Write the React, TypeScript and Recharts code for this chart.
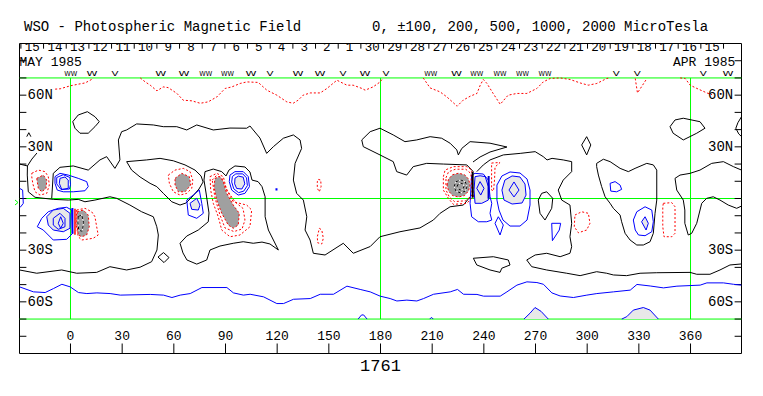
import React from 'react';
import { ComposedChart, XAxis, YAxis, Scatter, ReferenceLine, ReferenceArea } from 'recharts';

type P = [number, number];

// ---------- axis / label data ----------
const LON_MIN = -29.61;
const LON_MAX = 389.6;
const lonTicks = [0, 30, 60, 90, 120, 150, 180, 210, 240, 270, 300, 330, 360];
const latTicks = [-80, -70, -60, -50, -40, -30, -20, -10, 0, 10, 20, 30, 40, 50, 60, 70, 80];
const latLabelVals = [60, 30, -30, -60];
const latLabelText = ['60N', '30N', '30S', '60S'];
const greenLat = [70, 0, -70];
const greenLon = [0, 180, 360];
const dateLabels = ['15', '14', '13', '12', '11', '10', '9', '8', '7', '6', '5', '4', '3', '2', '1', '30', '29', '28', '27', '26', '25', '24', '23', '22', '21', '20', '19', '18', '17', '16', '15'];
const DATE_START_LON = -28.8;
const DAY_DEG = 13.16;
const sectorLon = [0.1, 12.5, 25.8, 52.4, 65.9, 78.6, 91.2, 104.8, 115.8, 132.1, 144.9, 158.2, 171, 183.2, 209.2, 224.2, 235.9, 249.4, 262.5, 275.5, 316.9, 329.1, 367.4, 381.8];
const sectorMark = ['WW', 'W', 'V', 'W', 'W', 'WW', 'WW', 'W', 'V', 'W', 'W', 'V', 'W', 'V', 'WW', 'W', 'WW', 'WW', 'WW', 'WW', 'V', 'V', 'V', 'W'];
const rotationNumber = '1761';
const titleLeft = 'WSO - Photospheric Magnetic Field';
const titleRight = '0, \u00b1100, 200, 500, 1000, 2000 MicroTesla';
const monthLeft = 'MAY 1985';
const monthRight = 'APR 1985';

// ---------- contours (lon, lat) ----------
// north polar positive (red dotted)
const n1: P[] = [[-8.9, 63.5], [-6, 63.7], [-0.2, 65.4], [4.6, 66.4], [8.5, 67.1], [12.4, 69.2], [13.2, 70]];
const n2: P[] = [[40.5, 70], [43.4, 67.7], [46.3, 65.8], [50.2, 62.5], [53.8, 64.8], [56.7, 64.4], [61.8, 61], [65.4, 57.1], [70.5, 56.7], [75.3, 55.3], [79.9, 56.1], [85, 59], [89.8, 63.9], [93.7, 64.8], [98.5, 66.8], [102.4, 67.7], [109, 67.4], [114, 62.9], [119.8, 60], [125.6, 56.1], [129.3, 55.3], [132.2, 57.1], [135.1, 60], [139.2, 61.3], [145, 61.3], [148.9, 63.9], [154.7, 68.7], [156.6, 67.7], [160.5, 65.8], [164.1, 65.8], [169.2, 63.9], [171.1, 62.9], [175.7, 64.8], [179.8, 67.7], [181.5, 70]];
const n3: P[] = [[204.8, 70], [208.8, 64.2], [214.6, 61.9], [218.5, 59], [224.5, 53.6], [228, 57.1], [232.1, 59.4], [236, 61], [237.9, 65.8], [239.7, 69.1], [241.8, 66.8], [245.4, 61], [249.5, 54.7], [254.1, 60], [259.2, 61], [265, 61], [270.8, 63.9], [274.5, 67.7], [278.5, 69.7], [284.3, 70], [290.1, 69.1], [295.9, 67.1], [300.6, 65.8], [305.6, 66.8], [311.4, 69.7], [313, 70]];
const n4: P[] = [[327.9, 69.7], [329.2, 61.3], [334.7, 69.7]];
const n5: P[] = [[354, 70], [356.9, 69.7], [359.8, 65.8], [363.7, 63.9], [369.5, 61.3], [372.5, 60.3]];
// south polar negative (blue)
const s1: P[] = [[-29.6, -51.3], [-21.5, -54.2], [-14.7, -54.6], [-9.9, -52.3], [-5, -49.8], [-0.2, -51.3], [4.6, -54.6], [9.5, -55.2], [15.3, -54.8], [23, -55.2], [28.9, -56.1], [46.3, -55.7], [54, -56.1], [58.9, -57.5], [63.7, -56.1], [69.5, -55.2], [76.3, -51.7], [90.8, -51.7], [94.6, -54.8], [100.4, -56.1], [104.3, -55.6], [112.1, -57.1], [119.8, -61], [123.7, -61], [129.5, -58.5], [139.2, -58.1], [145, -55.6], [152.7, -55.6], [160.5, -50.9], [168.2, -52.8], [174, -54.2], [179.8, -56.7], [185.6, -58.1], [189.5, -59.5], [195.3, -59], [201.1, -59.5], [205, -58.1], [210.8, -55.6], [220.5, -54.2], [224.7, -52.8], [228.2, -55.6], [236, -55.7], [239.8, -56.7], [249.5, -56.7], [253.4, -54.2], [259.2, -50.3], [265, -48.4], [270.8, -48.8], [274.6, -49.8], [279.5, -54.8], [284.3, -56.6], [292, -57.5], [299.8, -56.1], [305.6, -55.2], [315.3, -54.2], [325, -53.2], [328.9, -49.9], [336.6, -50.8], [344.3, -51.9], [352.1, -50.9], [365.6, -50.3], [369.5, -49], [379.1, -49], [384.9, -49.8], [389.6, -50.3]];
const sb1: P[] = [[263.3, -70], [266.8, -66.6], [269.7, -63.3], [273.2, -65.5], [277.4, -70]];
const sb2: P[] = [[320.1, -70], [323, -68.6], [326.8, -64.8], [332.6, -63.3], [336.5, -64.8], [341.3, -70]];
const sb3: P[] = [[167, -70], [169, -67.6], [170.2, -67.6], [172.2, -70]];
const sb4: P[] = [[208.6, -70], [209.6, -69], [210.6, -70]];

// zero contours (black)
const k1: P[] = [[1.3, 44.6], [4.5, 48.5], [9.8, 50.4], [14.2, 47.5], [16.7, 44.6], [14.2, 41.7], [10.3, 37.9], [5.5, 37.9], [2.6, 40.8], [1.3, 44.6]];
const k2: P[] = [[-10.9, 0.1], [-10, 14.6], [-6.1, 18.1], [1.6, 18.9], [10.3, 16.5], [17.1, 22.4], [21, 24.3], [25.8, 17.5], [28.7, 22.4], [27.8, 34], [29.7, 38.8], [32.6, 39.8], [38.4, 43.3], [48.1, 42.7], [53.9, 41.7], [61.7, 41.7], [67.5, 39.8], [73.3, 42.7], [82.9, 39.8], [92.6, 40.9], [102.3, 40.8], [104.2, 42.1], [106.1, 39.8], [110, 35.1], [113.9, 26.2], [117.8, 30.1], [123.6, 35], [129.4, 36.9], [133.3, 34], [134.2, 29.1], [130.4, 20.4], [129.4, 10.7], [131.3, 3], [135.2, -0.9], [137.2, -10.6], [136.2, -18.3], [139.1, -24.1], [141, -31.8], [147.8, -32.8], [158.4, -26], [164.2, -31.8], [174, -27.9], [179.7, -22.2], [191.3, -19.3], [202.9, -17.1], [210.7, -12.5], [214.6, -8.6], [220.4, -4.8], [228.1, -3.8], [232, 0.9]];
const k3: P[] = [[-29.6, -41.5], [-19.6, -43.4], [-5.1, -41.5], [3.6, -43.4], [15.2, -42.9], [22.9, -39.6], [32.6, -41.5], [40.4, -39.9], [47.1, -36.7], [50.2, -29.9], [51, -21.2], [50.1, -16.4], [48.1, -10.6], [41.3, -7.7], [34.5, -3.8], [26.8, 0.1], [22.9, 1], [14.2, -0.9], [8.4, -1.9], [4.5, -0.5], [-1.3, -0.9], [-10, -0.5], [-20.6, 0.7], [-24.5, 3.9], [-25.1, 13.6], [-25, 18.9], [-29.6, 20]];
const k3b: P[] = [[-25, 18.9], [-22.4, 22.9], [-19.5, 26.4]];
const k3c: P[] = [[-25.4, 35.9], [-24.2, 38.2], [-23, 35.9]];
const k4: P[] = [[32.6, 21.4], [44.2, 22.4], [52, 23.3], [59.7, 21.9], [66.5, 19.5], [72.3, 16.5], [75.8, 13.1], [77, 9.6], [74.6, 5.5], [71.1, 1.5], [67.1, -2.6], [63.6, -3.8], [58.8, -1.9], [53.9, 3], [50.1, 6.9], [46.2, 8.8], [40.4, 12.5], [35.5, 16.5], [32.6, 21.4]];
const k5: P[] = [[80.4, -8.4], [78.7, 3.2], [77.5, 10.7], [78.1, 15.6], [82.9, 17.1], [87.8, 15.6], [90.3, 13.1], [92, 16.5], [95.5, 18.9], [101.3, 18.3], [104.2, 15.4], [105.4, 10.7], [108.9, 9.8], [111.2, 6.9], [113, 1], [113, -10.6], [114.9, -18.3], [117.8, -24.1], [120.7, -29.9], [115.8, -26.4], [111.2, -25.3], [106.1, -26], [100.3, -25.1], [94.5, -26], [86.8, -27.6], [81, -29.9], [79.1, -35.7], [73.3, -38.1], [67.6, -35.7], [65.3, -31.6], [63.6, -26], [67.5, -21.8], [74.2, -18.3], [80, -13.5], [80.4, -8.4]];
const k6: P[] = [[233.7, 21.2], [237.8, 24.1], [243.6, 27], [253.4, 29.9], [243.6, 32.1], [232, 33], [227.2, 29.1], [225.2, 25.3], [224.3, 28.2], [220.4, 32.1], [215.5, 35], [208.8, 35.9], [201, 34], [194.2, 33], [187.4, 36.9], [179.7, 40.8], [174, 38.8], [169.1, 34], [170, 30.1], [179.7, 25.3], [187.4, 21.4], [189.4, 15.6], [195.2, 13.6], [199, 18.5], [206.8, 20.4], [216.5, 20], [230.1, 19.5], [233.9, 15.6]];
const k7: P[] = [[235.9, 15.6], [239.7, 19.5], [243.6, 22.4], [251.3, 25.3], [261.1, 26.2], [269.8, 27.2], [274.5, 24.3], [276.7, 22.4], [279.6, 23.3], [286.1, 22.4], [291, 21.4], [291, 15.6], [286.1, 10.7], [283.2, 4.9], [285.2, -0.9], [290, -3.8], [291, -14.4], [290, -22.2], [291, -28], [290, -31.8], [284.3, -33.8], [276.5, -31.8], [269.8, -32.8], [264.9, -35.7], [267.8, -39.6], [276.5, -41.5], [288.1, -43.4], [295.9, -44.8], [305.5, -42.5], [311.3, -43.4], [315.2, -44.4], [322.9, -44.8], [330.7, -43.4], [340.4, -43.1], [359.7, -42.9], [363.6, -44], [371.3, -44], [377.1, -41.5], [382.9, -38.6], [389.6, -38]];
const k8: P[] = [[233.9, -34.7], [235.9, -38.6], [243.6, -41.5], [249.4, -42.9], [250.4, -40.5], [255.2, -38.6], [254.2, -35.7], [245.5, -33.8], [233.9, -34.7]];
const k9: P[] = [[273.6, 3], [276.5, 3.9], [280, 0.1], [279.4, -5.7], [275.5, -12.5], [272.6, -8.6], [271.6, -0.9], [273.6, 3]];
const k10: P[] = [[296.8, 31.1], [299.7, 35.9], [302.1, 31.1], [299.7, 25.3], [296.8, 31.1]];
const k11: P[] = [[305.5, 20.4], [309.4, 22.8], [313.3, 21.4], [319.1, 17.5], [323.9, 15.6], [327.8, 17.5], [334.6, 20.4], [338.4, 19.5], [340.4, 16.5], [340.4, -0.9], [339.4, -8.6], [338.4, -20.2], [336.5, -25.1], [332.6, -27], [328.8, -27], [324.9, -24.1], [322, -20.2], [320, -13.5], [319.1, -9.6], [315.2, -5.7], [313.3, -2.8], [310.4, 1], [308.4, 6.9], [306.5, 13.6], [305.5, 18.5], [305.5, 20.4]];
const k12: P[] = [[348.1, 41.7], [351, 45.6], [355.8, 46.6], [365.5, 44.6], [368.4, 40.8], [363.6, 37.9], [355.8, 34], [349.9, 37.9], [348.1, 41.7]];
const k13: P[] = [[389.6, 16.5], [384.9, 18.5], [379.1, 21.4], [372.3, 20.4], [365.5, 16.5], [359.7, 14.6], [353.9, 13.6], [351, 11.7], [352, 4.9], [355.8, -0.9], [356.7, -6.7], [356.7, -14.4], [358.7, -21.2], [360.7, -20.2], [363.6, -14.4], [366.5, -2.8], [369.4, 0.1], [373.2, 1], [377.1, -0.9], [381.9, -3.8], [386.8, -5.7], [389.6, -4.4]];
const k14: P[] = [[389.6, 47.5], [387.5, 44], [386.3, 40.8], [388, 37.5], [389.6, 36]];
const k15: P[] = [[50.8, -34], [54, -31.4], [57.2, -34.3], [54.3, -37.2], [50.8, -34]];

// negative regions (blue, light-gray cores)
const bl1: P[] = [[-29.6, 5.9], [-27.8, 4.9], [-27.4, -2.8], [-28.9, -4.8], [-29.6, -5]];
const ba1: P[] = [[-9, 12.7], [-6.1, 14.6], [-1.3, 13.6], [4.5, 11.7], [9.4, 9.8], [10.3, 6.9], [8.4, 4.5], [1.6, 3.9], [-4.2, 3.9], [-7.7, 4.9], [-9, 8.8], [-9, 12.7]];
const ba2: P[] = [[-8, 12.2], [-4.2, 13.8], [-0.3, 12.2], [0, 8], [-0.6, 5.5], [-5.5, 5.2], [-8, 8.5], [-8, 12.2]];
const ba3: P[] = [[-6.1, 11.7], [-3.2, 12.5], [-1.3, 10.7], [-1.3, 5.9], [-5.1, 5.3], [-6.5, 8.8], [-6.1, 11.7]];
const bb1: P[] = [[-19.3, -16.4], [-16.7, -11.5], [-12.9, -7.7], [-7.1, -5.7], [-2.2, -5.1], [0.7, -6.7], [1.3, -20.2], [-2.2, -23.7], [-10, -24.1], [-15.8, -18.3], [-19.3, -16.4]];
const bb2: P[] = [[-13.8, -10.6], [-10, -6.7], [-4.2, -5.7], [-0.3, -8.6], [-0.3, -17.3], [-4.2, -19.3], [-10, -18.3], [-12.9, -15.4], [-13.8, -10.6]];
const bb3: P[] = [[-10, -11.5], [-6.1, -8.6], [-3.2, -11.5], [-3.2, -16.4], [-7.1, -17.9], [-10, -15.4], [-10, -11.5]];
const bb4: P[] = [[-7.1, -14.4], [-5.7, -10.6], [-4.2, -14.4], [-5.7, -17.3], [-7.1, -14.4]];
const bc1: P[] = [[67.5, -0.9], [71.3, 2], [74.8, 4.9], [76.2, -2.8], [77.1, -8.6], [73.3, -11.5], [68.4, -9.6], [67.5, -0.9]];
const bc2: P[] = [[69.4, -2.8], [73.3, 0.1], [75.2, -3.8], [74.2, -6.7], [70.4, -6.3], [69.4, -2.8]];
const bd1: P[] = [[92.6, 13.6], [95.5, 15.6], [100.3, 15.6], [103.2, 12.7], [103.9, 6.9], [101.3, 3], [97.4, 2], [93.6, 4.9], [92.2, 9.8], [92.6, 13.6]];
const bd2: P[] = [[94, 12.8], [96, 14.3], [100, 14.3], [102.2, 12], [102.7, 7.5], [100.6, 4.3], [97.6, 3.4], [94.8, 5.6], [93.6, 9.6], [94, 12.8]];
const bd3: P[] = [[95.5, 11.8], [97.5, 13], [100.3, 12.4], [101.2, 8.5], [99.5, 5.5], [96.5, 5.8], [95.3, 8.5], [95.5, 11.8]];
const bdot: P[] = [[119.6, 5.9], [119.6, 4.7]];
const bf1: P[] = [[232.9, 13.6], [234.9, 14.6], [239.7, 14.2], [242.6, 10.7], [243.6, 1], [244.6, -2.8], [243.6, -8.6], [244.6, -12.5], [241.7, -13.5], [236.8, -13.5], [232.9, -10.6], [232, -2.8], [232.9, 13.6]];
const bf2: P[] = [[234.9, 12.7], [237.8, 13.2], [240.8, 12.7], [242.6, 6.9], [242.6, -0.9], [238.8, -2.8], [234.9, -2.8], [234.3, 5], [234.9, 12.7]];
const bf3: P[] = [[235.9, 5.9], [237.8, 9.8], [240.1, 5.9], [238.2, 2], [235.9, 5.9]];
const bg1: P[] = [[247.6, -0.9], [247.6, 7.8], [250.5, 13.1], [255.2, 15.4], [261, 14.8], [265.1, 11.3], [266.8, 4.9], [266.8, -3.8], [265.1, -12.5], [261, -16], [255.2, -16], [251.1, -12.5], [248.8, -6.7], [247.6, -0.9]];
const bg2: P[] = [[250.5, 4.9], [252.2, 10.7], [256.4, 13.1], [261, 12.5], [263.9, 8.4], [264.5, 2], [262.2, -2.6], [256.4, -3.2], [251.7, -0.9], [250.5, 4.9]];
const bg3: P[] = [[254.6, 4.9], [257.5, 9.6], [260.4, 4.9], [257.5, 0.9], [254.6, 4.9]];
const bg4: P[] = [[246.5, -14.4], [248.4, -10.6], [251.3, -15.4], [249.4, -21.2], [246.5, -14.4]];
const bh: P[] = [[313.3, 8.8], [316.2, 9.8], [319.1, 7.8], [320, 5.3], [317.1, 3.9], [313.7, 4.3], [313.3, 8.8]];
const bi1: P[] = [[326.8, -12.5], [328.8, -7.7], [333.6, -4.8], [337.5, -6.7], [338.4, -13.5], [337.5, -19.3], [333.6, -21.6], [329.8, -21.2], [327.9, -18.3], [326.8, -12.5]];
const bi2: P[] = [[331.6, -13.5], [333.6, -10.6], [335.5, -14.4], [334.2, -18.3], [331.6, -13.5]];
const bj: P[] = [[279.4, -14.4], [284.6, -14.4], [283.8, -18.3], [279.8, -24.5], [279.4, -14.4]];

// positive regions (red dotted, gray cores)
const rb1: P[] = [[-22.5, 14.6], [-18.7, 16.5], [-14.8, 15.6], [-12.9, 12.7], [-12.3, 7.8], [-13.8, 3], [-17.7, 2], [-20.6, 3.9], [-21.9, 8.8], [-22.5, 12.7], [-22.5, 14.6]];
const rb2: P[] = [[-19.6, 11.7], [-15.8, 13.6], [-13.8, 10.7], [-14.2, 5.9], [-16.7, 3.9], [-18.7, 5.9], [-19.6, 11.7]];
const ra1: P[] = [[3.6, -6.7], [8.4, -5.7], [12.3, -7.7], [14.2, -10.6], [15.2, -16.4], [16.1, -21.2], [13.2, -23.1], [6.5, -24.1], [4.5, -22.2], [3.2, -14.4], [3.6, -6.7]];
const ra2: P[] = [[3.9, -7.7], [7.4, -6.7], [10.3, -9.6], [10.9, -16.4], [9.4, -21.2], [6.5, -22.2], [4.5, -21.2], [3.6, -14.4], [3.9, -7.7]];
const ra3: P[] = [[4.5, -10.5], [6.5, -9.5], [7.6, -14], [6.8, -19], [4.8, -18.5], [4.3, -14], [4.5, -10.5]];
const rc1: P[] = [[56.8, 13.6], [60.7, 16.5], [65.5, 17.5], [69.4, 15.6], [71, 10.7], [70.4, 5.9], [67.5, 3], [63.6, 2], [59.7, 3.9], [57.4, 8.8], [56.8, 13.6]];
const rc2: P[] = [[60.7, 11.7], [64.6, 14.6], [69, 12.7], [69.8, 7.8], [66.5, 3.9], [62.6, 3.9], [60.7, 7.8], [60.7, 11.7]];
const rd1: P[] = [[81, 12.7], [84.9, 14.6], [88.7, 12.7], [90.7, 4.9], [94.5, -1.9], [102.3, -3.8], [105.2, -6.7], [104.2, -16.4], [98.4, -21.2], [92.6, -22.2], [87.8, -18.3], [85.8, -10.6], [82.9, -2.8], [81.4, 4.9], [81, 12.7]];
const rd2: P[] = [[82.3, 10.7], [84.6, 13.2], [87.7, 12.1], [90.9, 4.9], [95.5, -2], [100.2, -5.8], [101.3, -12.5], [99.6, -17.7], [94.9, -19.2], [89.7, -17.1], [86.8, -9.6], [83.9, 0.3], [82.3, 10.7]];
const rd3: P[] = [[83.9, 11.7], [86.8, 12.7], [88.7, 9.8], [90.7, 3], [94.5, -3.8], [98, -8.6], [97.4, -15.4], [94.5, -17.3], [91.6, -15.4], [87.8, -8.6], [84.9, -0.9], [83.3, 6.9], [83.9, 11.7]];
const re1: P[] = [[143.9, 11.1], [145.3, 10.7], [145.5, 6.9], [144.5, 3.9], [143.3, 5.9], [143.3, 9.7], [143.9, 11.1]];
const re2: P[] = [[144.5, -17.3], [145.9, -18.3], [146.8, -23.1], [145.9, -26.4], [143.5, -25.7], [143.3, -22.2], [144.5, -17.3]];
const rf1: P[] = [[216.5, 12.7], [217.5, 16.5], [222.3, 18.5], [230.1, 18.5], [233, 16.5], [233.9, 1], [230.1, -2.8], [222.3, -3.4], [219.4, 0.1], [216.5, 4.9], [216.5, 12.7]];
const rf2: P[] = [[218, 12], [219.5, 15.5], [223.5, 17], [229.5, 17], [232.5, 14.5], [233.2, 2], [229.5, -1.3], [223, -1.8], [220, 0.8], [218, 5], [218, 12]];
const rf3: P[] = [[218.6, 7.8], [219.5, 11.3], [221.8, 13.8], [225.3, 14.7], [228.8, 13.8], [231.1, 11.3], [232, 7.8], [231.1, 4.4], [228.8, 1.7], [225.3, 0.9], [221.8, 1.7], [219.5, 4.4], [218.6, 7.8]];
const rf4: P[] = [[222.7, 7], [223.8, 9.7], [226.5, 10.8], [229.2, 9.7], [230.3, 7], [229.2, 4.3], [226.5, 3.2], [223.8, 4.3], [222.7, 7]];
const rf5: P[] = [[224.5, 7], [225.1, 8.4], [226.5, 9], [227.9, 8.4], [228.5, 7], [227.9, 5.6], [226.5, 5], [225.1, 5.6], [224.5, 7]];
const rg: P[] = [[244.5, 20.6], [249.4, 20.9], [246.5, 18.3], [246.2, 10.7], [245.6, 4.4], [244.5, 4.9], [244.5, 20.6]];
const rh: P[] = [[344.2, -2.8], [349.1, -2.4], [351, -4.8], [351, -20.2], [349.1, -22.2], [344.6, -22.2], [343.9, -16.4], [343.9, -4.8], [344.2, -2.8]];
const ri: P[] = [[292.9, -9.6], [296.8, -7.7], [300.7, -8.6], [301.6, -14.4], [299.7, -18.3], [294.9, -19.9], [292.5, -16.4], [292.9, -9.6]];

// steep polarity boundaries
const edgeBlueL: P[] = [[1.1, -5.5], [1.1, -20.5]];
const edgeRedL: P[] = [[2.6, -6], [2.6, -21]];
const edgeBlkC: P[] = [[233.5, 15.5], [233.5, 0.5]];
const edgeBluC: P[] = [[242.8, 13], [242.8, 0]];

// ---------- styles ----------
type St = { stroke?: string; fill?: string; dash?: string; w?: number };
const BLK: St = { stroke: '#000000' };
const BLU: St = { stroke: '#0000ff' };
const RED: St = { stroke: '#ff0000', dash: '2 2' };
const GRY: St = { fill: '#a0a0a0', stroke: '#ff0000', dash: '2 2' };
const LGR: St = { fill: '#e8e8e8', stroke: '#0000ff' };
const WHT: St = { stroke: '#ffffff' };
const BDASH: St = { stroke: '#000000', dash: '3 2' };

const layers: [P[], St][] = [
  [n1, RED], [n2, RED], [n3, RED], [n4, RED], [n5, RED],
  [s1, BLU], [sb1, LGR], [sb2, LGR], [sb3, BLU], [sb4, BLU],
  [k1, BLK], [k2, BLK], [k3, BLK], [k3b, BLK], [k3c, BLK], [k4, BLK], [k5, BLK], [k6, BLK], [k7, BLK],
  [k8, BLK], [k9, BLK], [k10, BLK], [k11, BLK], [k12, BLK], [k13, BLK], [k14, BLK], [k15, BLK],
  [bl1, BLU], [ba1, BLU], [ba2, BLU], [ba3, LGR],
  [bb1, BLU], [bb2, LGR], [bb3, BLU], [bb4, BLU],
  [bc1, BLU], [bc2, LGR], [bd1, BLU], [bd2, BLU], [bd3, LGR], [bdot, { stroke: '#0000ff', w: 2 }],
  [bf1, BLU], [bf2, LGR], [bf3, BLU], [bg1, BLU], [bg2, LGR], [bg3, BLU], [bg4, BLU],
  [bh, BLU], [bi1, BLU], [bi2, LGR], [bj, BLU],
  [rb1, RED], [rb2, GRY], [ra1, RED], [ra2, GRY], [ra3, WHT], [ra3, BDASH],
  [rc1, RED], [rc2, GRY], [rd1, RED], [rd2, RED], [rd3, GRY], [re1, RED], [re2, RED],
  [rf1, RED], [rf2, RED], [rf3, GRY], [rf4, WHT], [rf4, BDASH], [rf5, WHT], [rf5, BDASH],
  [rg, RED], [rh, RED], [ri, RED],
  [edgeBlueL, { stroke: '#0000ff', w: 2 }], [edgeRedL, { stroke: '#ff0000', w: 1.5 }],
  [edgeBlkC, { stroke: '#000000', w: 2 }], [edgeBluC, { stroke: '#0000cc', w: 2 }],
];

const MONO = '"Liberation Mono", "DejaVu Sans Mono", monospace';
const toPts = (a: P[]) => a.map(([x, y]) => ({ x, y }));
const NoDot = () => <g />;

type TP = { x: number; y: number; t: string };
const datePts: TP[] = dateLabels.map((t, i) => ({ x: DATE_START_LON + DAY_DEG * (i + 0.5), y: 87.15, t }));
const dateBounds = dateLabels.map((_, i) => DATE_START_LON + DAY_DEG * i).concat([DATE_START_LON + DAY_DEG * dateLabels.length]);
const sectorPts: TP[] = sectorLon.map((x, i) => ({ x, y: 72.3, t: sectorMark[i] }));
const lonLabelPts: TP[] = lonTicks.map((x) => ({ x, y: -80.3, t: String(x) }));
const latLeftPts: TP[] = latLabelVals.map((y, i) => ({ x: -24.9, y, t: latLabelText[i] }));
const latRightPts: TP[] = latLabelVals.map((y, i) => ({ x: 384.8, y, t: latLabelText[i] }));

const textShape = (size: number, anchor: 'start' | 'middle' | 'end') => (p: any) => {
  const t = p?.payload?.t ?? p?.t ?? '';
  return (
    <text x={p.cx} y={p.cy} textAnchor={anchor} dominantBaseline="central" fontFamily={MONO} fontSize={size} fill="#000">
      {t}
    </text>
  );
};
const sectorShape = (p: any) => {
  const t: string = p?.payload?.t ?? p?.t ?? '';
  const len = t === 'V' ? 7 : t === 'WW' ? 13 : 11;
  return (
    <text x={p.cx} y={p.cy} textAnchor="middle" dominantBaseline="central" fontFamily='"DejaVu Sans", sans-serif' fontSize={7} textLength={len} lengthAdjust="spacingAndGlyphs" fill="#000">
      {t}
    </text>
  );
};

export default function App() {
  return (
    <div style={{ position: 'absolute', left: 0, top: 0, width: 763, height: 396, background: '#ffffff' }}>
      <ComposedChart width={763} height={396} margin={{ top: 43.5, right: 21.5, bottom: 42.5, left: 19.5 }}>
        <XAxis type="number" dataKey="x" domain={[LON_MIN, LON_MAX]} allowDataOverflow hide />
        <YAxis type="number" dataKey="y" domain={[-90, 90]} allowDataOverflow hide />
        {greenLat.map((y) => (
          <ReferenceLine key={'gy' + y} y={y} stroke="#00ff00" strokeWidth={1} />
        ))}
        {greenLon.map((x) => (
          <ReferenceLine key={'gx' + x} segment={[{ x, y: -70 }, { x, y: 70 }]} stroke="#00ff00" strokeWidth={1} />
        ))}
        {layers.map(([pts, st], i) => (
          <Scatter
            key={'c' + i}
            data={toPts(pts)}
            isAnimationActive={false}
            shape={NoDot}
            legendType="none"
            line={{ stroke: st.stroke ?? 'none', fill: st.fill ?? 'none', strokeDasharray: st.dash, strokeWidth: st.w ?? 1 }}
          />
        ))}
        <ReferenceArea x1={LON_MIN} x2={LON_MAX} y1={-90} y2={90} fill="none" stroke="#000" strokeWidth={1} ifOverflow="visible" />
        {latTicks.map((y) => (
          <ReferenceLine key={'lt' + y} segment={[{ x: LON_MIN, y }, { x: LON_MIN + 4, y }]} stroke="#000" />
        ))}
        {latTicks.map((y) => (
          <ReferenceLine key={'rt' + y} segment={[{ x: LON_MAX - 4, y }, { x: LON_MAX, y }]} stroke="#000" />
        ))}
        {lonTicks.map((x) => (
          <ReferenceLine key={'bt' + x} segment={[{ x, y: -90 }, { x, y: -84.2 }]} stroke="#000" />
        ))}
        {dateBounds.map((x, i) => (
          <ReferenceLine key={'dt' + i} segment={[{ x, y: 90 }, { x, y: 87 }]} stroke="#000" />
        ))}
        <Scatter data={datePts} isAnimationActive={false} shape={textShape(12.5, 'middle')} legendType="none" />
        <Scatter data={sectorPts} isAnimationActive={false} shape={sectorShape} legendType="none" />
        <Scatter data={lonLabelPts} isAnimationActive={false} shape={textShape(13, 'middle')} legendType="none" />
        <Scatter data={latLeftPts} isAnimationActive={false} shape={textShape(14, 'start')} legendType="none" />
        <Scatter data={latRightPts} isAnimationActive={false} shape={textShape(14, 'end')} legendType="none" />
      </ComposedChart>
      <svg width={763} height={396} style={{ position: 'absolute', left: 0, top: 0, pointerEvents: 'none' }}>
        <text x={24} y={27} dominantBaseline="central" fontFamily={MONO} fontSize={14} fill="#000">{titleLeft}</text>
        <text x={372} y={27} dominantBaseline="central" fontFamily={MONO} fontSize={14} fill="#000">{titleRight}</text>
        <text x={19.5} y={62.8} dominantBaseline="central" fontFamily={MONO} fontSize={13} fill="#000">{monthLeft}</text>
        <text x={673} y={62.8} dominantBaseline="central" fontFamily={MONO} fontSize={13} fill="#000">{monthRight}</text>
        <text x={380.5} y={366} textAnchor="middle" dominantBaseline="central" fontFamily={MONO} fontSize={17} fill="#000">{rotationNumber}</text>
        <polyline points="15,200 18,202.5 15,205" fill="none" stroke="#00ff00" strokeWidth={1} />
      </svg>
    </div>
  );
}
